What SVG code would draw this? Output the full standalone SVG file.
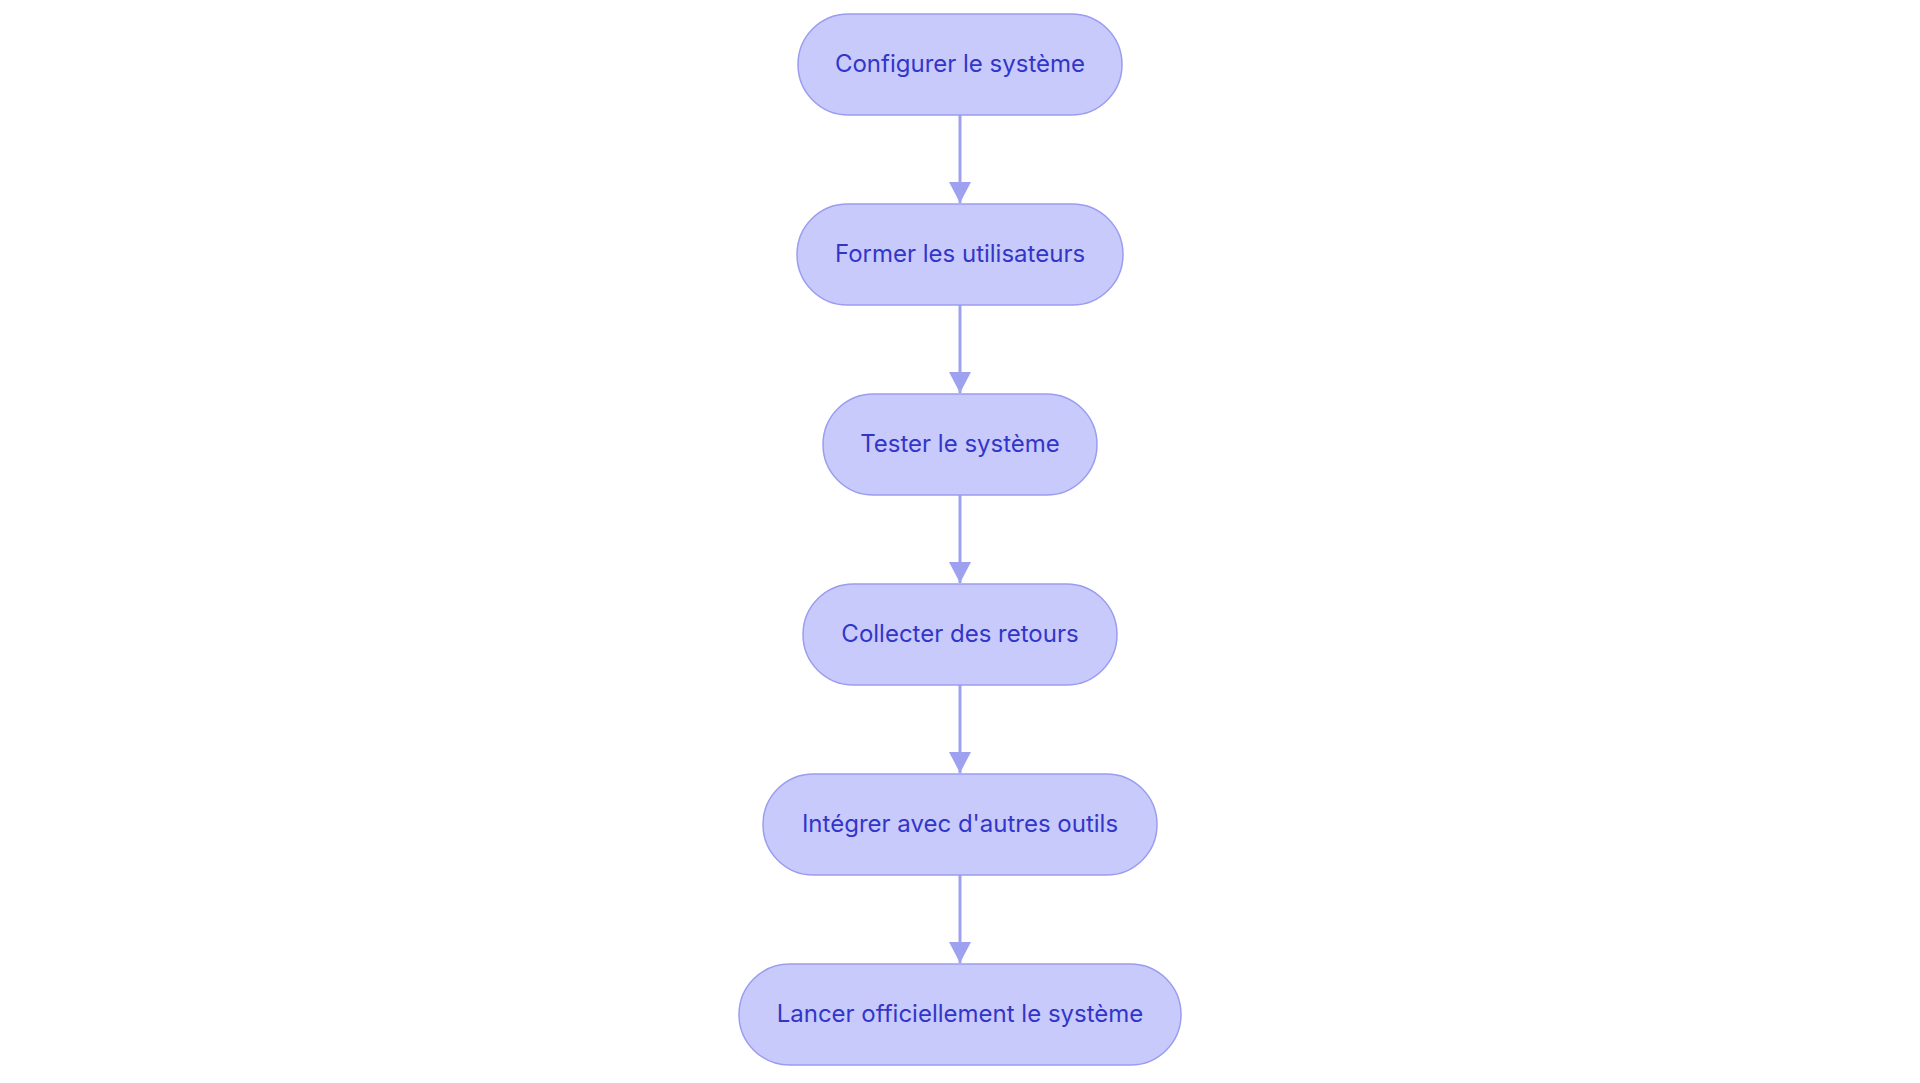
<svg xmlns="http://www.w3.org/2000/svg" width="1920" height="1083" viewBox="0 0 1920 1083">
<defs>
<style>
.node rect{fill:#C9CAFC;stroke:#9A9DEF;stroke-width:1.5}
.node text{font-family:Inter,"Open Sans",sans-serif;font-size:24px;font-weight:400;fill:#3236C8;text-anchor:middle}
.edge{stroke:#9EA1F0;stroke-width:3;fill:none}
</style>
<marker id="arr" markerWidth="21" markerHeight="22" refX="21" refY="11" orient="auto" markerUnits="userSpaceOnUse">
<path d="M0,0 L21,11 L0,22 Z" fill="#9EA1F0"/>
</marker>
</defs>
<rect width="1920" height="1083" fill="#fff"/>
<g id="connectors">
<path class="edge" d="M960,115 L960,203" marker-end="url(#arr)"/>
<path class="edge" d="M960,305 L960,393" marker-end="url(#arr)"/>
<path class="edge" d="M960,495 L960,583" marker-end="url(#arr)"/>
<path class="edge" d="M960,685 L960,773" marker-end="url(#arr)"/>
<path class="edge" d="M960,875 L960,963" marker-end="url(#arr)"/>
</g>
<g id="n1" class="node"><rect x="798" y="14" width="324" height="101" rx="50.5"/><text x="960" y="72">Configurer le système</text></g>
<g id="n2" class="node"><rect x="797" y="204" width="326" height="101" rx="50.5"/><text x="960" y="262">Former les utilisateurs</text></g>
<g id="n3" class="node"><rect x="823" y="394" width="274" height="101" rx="50.5"/><text x="960" y="452">Tester le système</text></g>
<g id="n4" class="node"><rect x="803" y="584" width="314" height="101" rx="50.5"/><text x="960" y="642">Collecter des retours</text></g>
<g id="n5" class="node"><rect x="763" y="774" width="394" height="101" rx="50.5"/><text x="960" y="832">Intégrer avec d'autres outils</text></g>
<g id="n6" class="node"><rect x="739" y="964" width="442" height="101" rx="50.5"/><text x="960" y="1022">Lancer officiellement le système</text></g>
</svg>
